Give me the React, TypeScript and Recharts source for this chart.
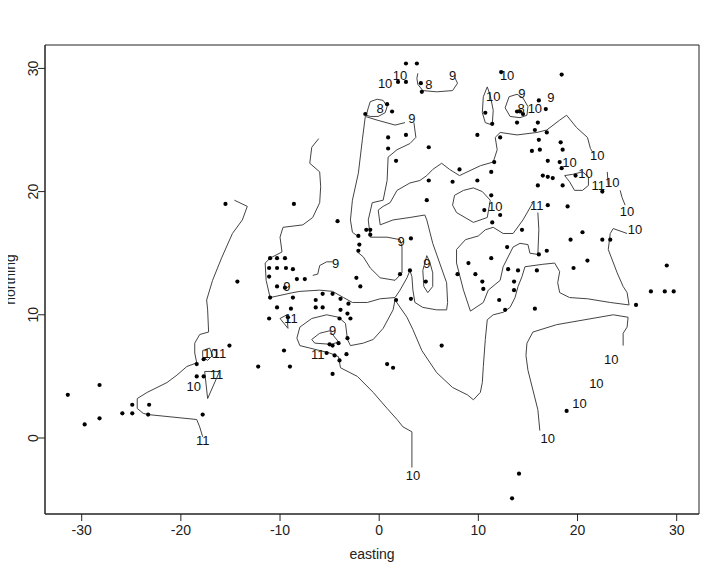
import { ScatterChart, Scatter, XAxis, YAxis, ReferenceArea } from 'recharts';

type Pt = [number, number];

const xTicks = [-30, -20, -10, 0, 10, 20, 30];
const yTicks = [0, 10, 20, 30];
const xDomain: [number, number] = [-33.7, 32.25];
const yDomain: [number, number] = [-6.17, 31.9];

// sampling sites (easting, northing)
const sites: Pt[] = [
  [2.7, 30.4], [3.8, 30.4], [1.9, 28.9], [2.7, 28.9], [4.2, 28.8], [4.3, 28.1], [0.8, 27.1], [1.3, 26.5],
  [-1.4, 26.3], [0.9, 24.4], [2.7, 24.6], [0.9, 23.5], [5.0, 23.6], [1.7, 22.5], [9.9, 24.6], [8.1, 21.8],
  [5.0, 20.9], [7.4, 20.8], [9.9, 20.9], [4.8, 19.3], [-8.6, 19.0], [-15.5, 19.0], [-4.2, 17.6],
  [-1.3, 16.9], [-0.9, 16.9], [-0.9, 16.5], [-2.1, 16.4], [-2.0, 15.7], [-2.1, 15.2], [3.2, 16.2],
  [2.1, 13.3], [3.1, 13.6], [4.7, 12.7], [9.0, 14.2], [7.9, 13.3], [9.7, 13.3], [-7.5, 12.9], [-2.3, 13.0],
  [-1.9, 12.3], [3.2, 11.3], [1.7, 11.2], [-6.4, 11.2], [-5.7, 11.7], [-4.7, 11.7], [-3.9, 11.3],
  [-3.1, 10.9], [-6.4, 10.6], [-5.7, 10.6], [-3.9, 10.4], [-3.2, 10.1], [-2.9, 9.7],
  [-11.0, 14.6], [-10.3, 14.6], [-9.5, 14.6], [-11.1, 13.8], [-10.3, 13.8], [-9.4, 13.8], [-8.7, 13.7],
  [-11.1, 13.1], [-8.3, 12.9], [-10.3, 12.3], [-9.5, 12.2], [-11.0, 11.4], [-8.7, 11.4], [-10.3, 10.6],
  [-8.9, 10.5], [-11.1, 9.7], [-9.2, 9.8], [-4.0, 9.7], [-3.2, 8.1], [-5.0, 7.6], [-4.7, 7.5], [-4.1, 7.7],
  [-5.3, 6.9], [-4.5, 6.7], [-3.3, 6.8], [-4.0, 6.3], [-9.6, 7.1], [-12.2, 5.8], [-9.0, 5.8], [0.8, 6.0],
  [1.4, 5.7], [6.3, 7.5], [-4.7, 5.2], [-14.3, 12.7], [-15.1, 7.5],
  [-31.4, 3.5], [-28.2, 4.3], [-29.7, 1.1], [-28.2, 1.6], [-25.9, 2.0], [-24.9, 2.0], [-24.9, 2.7],
  [-23.2, 2.7], [-23.3, 1.9], [-18.4, 6.0], [-17.7, 6.4], [-18.4, 5.0], [-17.7, 5.0], [-17.8, 1.9],
  [14.1, -2.9], [13.4, -4.9], [18.9, 2.2],
  [12.3, 29.7], [18.4, 29.5], [16.1, 27.4], [16.8, 26.7], [13.9, 26.5], [14.2, 26.5], [14.5, 26.3],
  [10.7, 26.4], [11.4, 25.5], [16.0, 25.6], [12.2, 24.4], [15.7, 25.0], [16.9, 24.8], [13.9, 25.6],
  [16.1, 24.2], [15.4, 23.3], [16.2, 23.4], [18.3, 24.0], [18.5, 23.4], [17.0, 22.5], [18.2, 22.4],
  [18.4, 21.9], [11.6, 22.4], [11.3, 21.6], [16.5, 21.3], [17.0, 21.2], [17.5, 21.1], [16.0, 20.5],
  [18.5, 20.5], [19.8, 21.3], [22.5, 20.0], [11.3, 19.7], [10.6, 18.5], [12.2, 18.1], [17.0, 18.9],
  [19.0, 18.8], [11.4, 17.5], [14.4, 16.9], [20.5, 16.7], [19.3, 16.1], [22.5, 16.1], [23.3, 16.1],
  [12.9, 15.5], [16.9, 15.2], [16.1, 14.9], [11.3, 14.6], [21.0, 14.4], [19.6, 13.8], [13.0, 13.7],
  [14.0, 13.6], [15.9, 13.6], [10.4, 12.7], [13.6, 12.7], [10.5, 12.1], [13.6, 12.0], [12.1, 11.2],
  [12.7, 10.4], [15.7, 10.5], [25.9, 10.8], [29.0, 14.0], [27.4, 11.9], [28.8, 11.9], [29.7, 11.9],
];

// contour paths
const top9: Pt[] = [[3.9, 29.6], [3.8, 29.2], [3.9, 28.7], [4.4, 28.2], [5.8, 28.1], [7.4, 28.2], [7.9, 28.8], [7.6, 29.3]];
const loop8: Pt[] = [[-0.9, 27.3], [-0.2, 27.5], [0.4, 27.4], [0.8, 26.9], [0.6, 26.4], [-0.1, 26.1], [-0.9, 26.1], [-1.3, 26.2], [-1.1, 26.8], [-0.9, 27.3]];
const right9: Pt[] = [
  [-2.2, 15.1], [-1.6, 14.7], [-0.9, 13.8], [0.1, 13.0], [1.6, 12.8], [2.3, 13.4], [2.3, 15.5], [2.1, 16.1],
  [0.8, 16.3], [-0.9, 16.3], [-1.1, 17.7], [-0.7, 19.1], [0.4, 19.3], [0.8, 20.9], [0.9, 22.8], [1.8, 23.4],
  [3.1, 23.9], [3.7, 24.4], [3.5, 25.6],
];
const left9: Pt[] = [[2.6, 25.6], [1.6, 25.4], [-0.2, 25.8], [-1.4, 26.1], [-1.7, 24.2], [-2.1, 21.5], [-2.7, 19.3], [-2.9, 17.7], [-2.7, 16.7], [-2.2, 16.4]];
const long10: Pt[] = [
  [-6.1, 24.3], [-6.8, 23.6], [-7.0, 22.3], [-6.0, 21.6], [-5.9, 20.4], [-6.0, 19.1], [-6.7, 17.9], [-7.7, 17.3],
  [-9.7, 17.1], [-10.0, 16.3], [-9.8, 15.1], [-11.0, 14.6], [-11.5, 14.2], [-11.4, 12.8], [-11.0, 11.4],
  [-8.7, 11.8], [-8.0, 11.9], [-6.0, 12.0], [-4.7, 11.9], [-3.6, 11.4], [-2.7, 11.0], [-1.2, 11.0], [0.1, 11.3],
  [1.6, 11.4], [2.1, 12.0], [2.8, 13.0], [3.1, 13.6], [3.3, 13.1], [3.4, 12.0], [3.6, 11.0], [4.4, 10.6],
  [5.8, 10.4], [6.8, 10.4], [6.9, 11.0], [6.8, 12.6], [6.1, 14.2], [5.4, 15.8], [4.8, 17.7], [4.6, 18.1],
  [3.1, 17.9], [1.4, 17.7], [0.1, 17.3], [-0.1, 18.5], [0.4, 18.8], [1.1, 19.1], [1.8, 20.1], [3.1, 20.7],
  [4.1, 20.9], [4.8, 21.3], [5.4, 21.8], [6.3, 22.3], [7.1, 21.8], [8.1, 21.3], [10.2, 22.1], [11.5, 22.4],
  [11.9, 23.4], [11.7, 24.4], [12.2, 24.8], [13.9, 24.6], [15.9, 24.8], [16.9, 25.0], [18.2, 25.8], [18.9, 26.2],
  [19.9, 25.2], [21.0, 24.4], [21.3, 23.5], [21.6, 23.1],
];
const spike11: Pt[] = [
  [15.5, 19.1], [14.5, 17.7], [13.5, 16.6], [12.5, 16.6], [11.5, 17.1], [10.7, 16.9], [10.0, 16.4], [8.7, 16.1],
  [7.8, 15.3], [7.8, 14.2], [8.5, 12.0], [9.2, 10.3], [10.5, 11.0], [11.0, 12.0], [12.2, 12.8], [12.5, 13.9],
  [13.5, 15.5], [14.2, 15.8], [15.0, 15.7], [15.2, 15.0], [16.0, 14.9], [16.1, 16.9], [16.0, 18.3],
];
const loop10mid: Pt[] = [[7.4, 18.9], [7.6, 19.7], [8.5, 20.1], [9.5, 20.3], [10.4, 20.0], [11.2, 19.3], [10.9, 17.9], [9.5, 17.5], [7.8, 18.3], [7.4, 18.9]];
const big10: Pt[] = [
  [1.6, 11.2], [2.8, 9.8], [3.4, 8.8], [4.3, 7.1], [5.8, 5.3], [7.4, 4.1], [8.9, 3.5], [9.5, 3.1], [10.2, 3.7],
  [10.4, 4.5], [10.5, 5.8], [10.7, 8.0], [10.9, 9.6], [11.5, 10.0], [12.5, 10.2], [13.2, 10.6], [13.7, 11.4],
  [14.0, 12.3], [14.4, 13.1], [14.7, 13.9], [16.5, 14.1], [17.7, 14.2], [18.2, 13.5], [18.0, 12.6], [18.2, 11.8],
  [19.2, 11.4], [21.0, 11.3], [23.3, 11.0], [25.2, 10.8], [25.0, 11.8], [24.6, 12.3], [24.0, 13.4], [23.1, 15.3],
  [23.3, 16.6], [23.6, 17.0], [25.0, 16.6],
];
const south10: Pt[] = [
  [1.6, 11.2], [1.4, 10.4], [0.4, 8.9], [-0.6, 8.0], [-1.6, 7.7], [-2.9, 7.5], [-3.2, 8.0], [-3.4, 9.3],
  [-4.1, 9.8], [-5.3, 10.0], [-6.8, 9.7], [-8.0, 9.0], [-8.3, 8.1], [-8.0, 7.5], [-7.0, 7.3], [-5.0, 6.9],
  [-4.1, 6.6], [-3.9, 5.7], [-2.2, 5.0], [-0.6, 3.7], [0.8, 2.4], [1.8, 1.5], [2.4, 0.9], [3.3, 0.5], [3.3, -2.4],
];
const inner9: Pt[] = [[-6.8, 8.0], [-6.0, 8.5], [-5.0, 8.7], [-4.1, 7.8], [-4.8, 7.6], [-6.5, 7.7], [-6.8, 8.0]];
const hook9: Pt[] = [[-6.7, 13.2], [-6.2, 13.3], [-6.0, 14.0], [-5.3, 14.3], [-4.7, 14.3]];
const loop9east: Pt[] = [[4.8, 14.8], [4.4, 13.6], [4.5, 12.3], [4.9, 11.8], [5.4, 12.3], [5.4, 13.4], [5.1, 14.3], [4.8, 14.8]];
const tri11: Pt[] = [[-10.0, 9.7], [-9.3, 10.0], [-9.2, 8.9], [-10.0, 9.7]];
const southEast10: Pt[] = [
  [24.6, 7.5], [24.6, 8.5], [25.0, 9.0], [25.1, 9.8], [23.6, 10.0], [17.9, 9.2], [15.5, 8.6], [14.9, 7.7],
  [14.8, 6.7], [15.0, 5.5], [15.5, 3.9], [16.0, 2.3], [16.2, 0.6],
];
const west11: Pt[] = [
  [-14.6, 19.3], [-13.3, 18.8], [-13.8, 17.7], [-14.8, 16.6], [-15.9, 14.6], [-16.8, 12.8], [-17.4, 11.2],
  [-17.3, 10.4], [-17.2, 8.6], [-18.1, 8.4], [-18.6, 7.7], [-18.6, 6.9], [-18.4, 6.1], [-19.4, 5.8], [-20.4, 5.1],
  [-21.4, 4.5], [-22.4, 4.1], [-23.4, 3.7], [-24.4, 3.2], [-24.4, 2.4], [-23.8, 2.0], [-23.3, 1.9], [-18.4, 1.5],
  [-18.1, 0.9], [-17.8, 0.1],
];
const westTri: Pt[] = [[-17.6, 5.4], [-16.1, 5.4], [-17.3, 3.2], [-17.6, 5.4]];
const westLoop: Pt[] = [[-17.8, 7.1], [-17.1, 7.3], [-16.8, 6.7], [-17.3, 6.3], [-17.8, 6.6], [-17.8, 7.1]];
const eastTick: Pt[] = [[24.3, 20.1], [24.5, 19.5], [24.8, 18.9]];
const eastBar: Pt[] = [[23.0, 21.6], [23.1, 20.5]];
const loop10ne: Pt[] = [[18.7, 21.3], [19.2, 20.8], [19.7, 20.1], [20.5, 20.1], [21.1, 20.5], [21.1, 21.2], [20.5, 21.6], [19.5, 21.4], [18.7, 21.3]];
const loop10north: Pt[] = [[10.9, 28.5], [10.5, 27.7], [10.4, 26.4], [10.7, 25.6], [11.4, 25.4], [11.5, 26.6], [11.2, 27.8], [10.9, 28.5]];
const loop9north: Pt[] = [[13.1, 27.7], [12.7, 26.8], [13.2, 26.1], [14.2, 26.0], [14.9, 26.2], [15.0, 26.9], [14.5, 27.6], [13.9, 27.9], [13.1, 27.7]];

const contours: Pt[][] = [
  top9, loop8, right9, left9, long10, spike11, loop10mid, big10, south10, inner9, hook9, loop9east, tri11,
  southEast10, west11, westTri, westLoop, eastTick, eastBar, loop10ne, loop10north, loop9north,
];

const contourLabels: [number, number, string][] = [
  [0.6, 28.8, '10'], [2.1, 29.5, '10'], [5.0, 28.7, '8'], [7.4, 29.5, '9'], [0.1, 26.8, '8'], [3.3, 26.0, '9'],
  [12.9, 29.5, '10'], [11.5, 27.8, '10'], [14.4, 28.0, '9'], [14.3, 26.8, '8'], [15.7, 26.8, '10'], [17.3, 27.7, '9'],
  [22.0, 23.0, '10'], [19.2, 22.4, '10'], [20.8, 21.5, '10'], [22.1, 20.5, '11'], [23.5, 20.8, '10'],
  [11.7, 18.8, '10'], [15.9, 18.9, '11'], [25.0, 18.4, '10'], [25.8, 17.0, '10'], [2.2, 16.0, '9'],
  [-4.4, 14.2, '9'], [4.8, 14.2, '9'], [-9.3, 12.3, '9'], [-8.9, 9.7, '11'], [-4.7, 8.8, '9'], [-6.2, 6.8, '11'],
  [3.4, -3.0, '10'], [17.0, 0.0, '10'], [20.2, 2.8, '10'], [21.9, 4.5, '10'], [23.4, 6.4, '10'],
  [-17.8, -0.2, '11'], [-18.7, 4.2, '10'], [-16.4, 5.2, '11'], [-17.0, 6.9, '10'], [-16.1, 6.9, '11'],
];

const FONT = '"Liberation Sans", Arial, sans-serif';
const INK = '#222';

const toXY = (pts: Pt[]) => pts.map(([x, y]) => ({ x, y }));

const XTick = (p: any) => (
  <text x={p.x} y={p.y} dy={12} textAnchor="middle" fontSize={14} fontFamily={FONT} fill={INK}>
    {p.payload.value}
  </text>
);

const YTick = (p: any) => {
  const bx = p.x + 2;
  return (
    <text x={bx} y={p.y} transform={`rotate(-90 ${bx} ${p.y})`} textAnchor="middle" fontSize={14} fontFamily={FONT} fill={INK}>
      {p.payload.value}
    </text>
  );
};

const XTitle = (p: any) => {
  const vb = p.viewBox;
  return (
    <text x={vb.x + vb.width / 2} y={vb.y + 45} textAnchor="middle" fontSize={14} fontFamily={FONT} fill={INK}>
      easting
    </text>
  );
};

const YTitle = (p: any) => {
  const vb = p.viewBox;
  const cy = vb.y + vb.height / 2;
  return (
    <text x={15} y={cy} transform={`rotate(-90 15 ${cy})`} textAnchor="middle" fontSize={14} fontFamily={FONT} fill={INK}>
      northing
    </text>
  );
};

export default function App() {
  return (
    <div style={{ width: 714, height: 564, marginLeft: -8, marginTop: -8 }}>
      <ScatterChart width={714} height={564} margin={{ top: 45, right: 15, bottom: 10, left: 15 }}>
        <XAxis
          type="number"
          dataKey="x"
          domain={xDomain}
          ticks={xTicks}
          allowDataOverflow
          height={40}
          tickSize={7}
          tick={<XTick />}
          tickLine={{ stroke: INK }}
          axisLine={{ stroke: INK }}
          label={<XTitle />}
        />
        <YAxis
          type="number"
          dataKey="y"
          domain={yDomain}
          ticks={yTicks}
          allowDataOverflow
          width={30}
          tickSize={7}
          tick={<YTick />}
          tickLine={{ stroke: INK }}
          axisLine={{ stroke: INK }}
          label={<YTitle />}
        />
        <ReferenceArea
          x1={xDomain[0]}
          x2={xDomain[1]}
          y1={yDomain[0]}
          y2={yDomain[1]}
          fill="none"
          stroke={INK}
          strokeWidth={1}
          ifOverflow="visible"
        />
        {contours.map((c, i) => (
          <Scatter
            key={i}
            data={toXY(c)}
            line={{ stroke: '#444', strokeWidth: 1 }}
            shape={() => <g />}
            isAnimationActive={false}
          />
        ))}
        <Scatter
          data={toXY(sites)}
          isAnimationActive={false}
          shape={(p: any) => <circle cx={p.cx} cy={p.cy} r={2.1} fill="#000" />}
        />
        <Scatter
          data={contourLabels.map(([x, y, label]) => ({ x, y, label }))}
          isAnimationActive={false}
          shape={(p: any) => (
            <text x={p.cx} y={p.cy} dy={5} textAnchor="middle" fontSize={13} fontFamily={FONT} fill="#111">
              {p.payload?.label}
            </text>
          )}
        />
      </ScatterChart>
    </div>
  );
}
